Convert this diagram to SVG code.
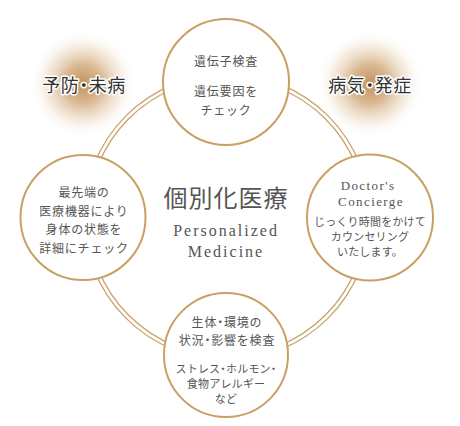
<svg xmlns="http://www.w3.org/2000/svg" width="460" height="426" viewBox="0 0 460 426">
<defs>
<radialGradient id="glow" cx="0.5" cy="0.5" r="0.5">
<stop offset="0" stop-color="#c39159" stop-opacity="1"/>
<stop offset="0.35" stop-color="#cfa574" stop-opacity="0.8"/>
<stop offset="0.7" stop-color="#e3c8a6" stop-opacity="0.35"/>
<stop offset="1" stop-color="#ffffff" stop-opacity="0"/>
</radialGradient>
<style>
.ring{fill:none;stroke:#c9a26a;stroke-width:1.3}
.node{fill:#ffffff;stroke:#c9a063;stroke-width:2}
.jp{font-family:"Noto Sans CJK JP","Noto Sans CJK SC",sans-serif;fill:#555;text-anchor:middle}
.main{font-size:12px;letter-spacing:0.8px}
.sub{font-size:11px;letter-spacing:0.2px}
.dot{font-feature-settings:"palt"}
.en{font-family:"Liberation Serif","DejaVu Serif",serif;fill:#555;text-anchor:middle}
.label{font-family:"Noto Sans CJK JP","Noto Sans CJK SC",sans-serif;font-size:18px;fill:#333;text-anchor:middle;stroke:#fff;stroke-width:3;stroke-linejoin:round;paint-order:stroke;letter-spacing:0.5px}
</style>
</defs>
<rect width="460" height="426" fill="#ffffff"/>
<g id="label-prevention">
<circle cx="83" cy="84" r="54" fill="url(#glow)"/>
<text class="label" x="84" y="92">予防<tspan class="dot">・</tspan>未病</text>
</g>
<g id="label-disease">
<circle cx="370" cy="84" r="54" fill="url(#glow)"/>
<text class="label" x="370" y="92">病気<tspan class="dot">・</tspan>発症</text>
</g>
<g id="connectors">
<circle class="ring" cx="227" cy="217" r="143"/>
<circle class="ring" cx="227" cy="217" r="139"/>
</g>
<g id="title">
<text class="jp" x="226" y="207" font-size="24" letter-spacing="1">個別化医療</text>
<text class="en" x="226" y="236" font-size="16" letter-spacing="2">Personalized</text>
<text class="en" x="226" y="257" font-size="16" letter-spacing="2">Medicine</text>
</g>
<g id="node-genetic">
<circle class="node" cx="226" cy="82" r="63"/>
<text class="jp main" x="226" y="66">遺伝子検査</text>
<text class="jp main" x="226" y="96">遺伝要因を</text>
<text class="jp main" x="226" y="115">チェック</text>
</g>
<g id="node-equipment">
<circle class="node" cx="83" cy="217.5" r="62.5"/>
<text class="jp main" x="84" y="197">最先端の</text>
<text class="jp main" x="84" y="215.5">医療機器により</text>
<text class="jp main" x="84" y="234">身体の状態を</text>
<text class="jp main" x="84" y="252.5">詳細にチェック</text>
</g>
<g id="node-concierge">
<circle class="node" cx="370" cy="217.5" r="63"/>
<text class="en" x="368" y="190" font-size="13" letter-spacing="1.4">Doctor's</text>
<text class="en" x="371" y="206" font-size="13" letter-spacing="1.4">Concierge</text>
<text class="jp sub" x="370" y="226">じっくり時間をかけて</text>
<text class="jp sub" x="370" y="241">カウンセリング</text>
<text class="jp sub" x="370" y="256">いたします。</text>
</g>
<g id="node-environment">
<circle class="node" cx="226" cy="355" r="62"/>
<text class="jp main" x="227" y="327">生体<tspan class="dot">・</tspan>環境の</text>
<text class="jp main" x="227" y="345">状況<tspan class="dot">・</tspan>影響を検査</text>
<text class="jp sub" x="226" y="373">ストレス<tspan class="dot">・</tspan>ホルモン<tspan class="dot">・</tspan></text>
<text class="jp sub" x="226" y="388">食物アレルギー</text>
<text class="jp sub" x="226" y="403">など</text>
</g>
</svg>
